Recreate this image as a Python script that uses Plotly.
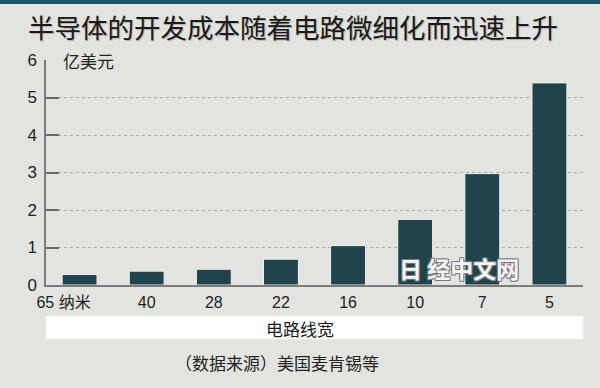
import plotly.graph_objects as go

# ---- data ----
categories = ["65", "40", "28", "22", "16", "10", "7", "5"]
tick_labels = ["65 纳米\u3000\u3000", "40", "28", "22", "16", "10", "7", "5"]
cost_values = [0.28, 0.37, 0.42, 0.69, 1.05, 1.75, 2.97, 5.39]
y_ticks = [0, 1, 2, 3, 4, 5, 6]

title_text = "半导体的开发成本随着电路微细化而迅速上升"
unit_text = "亿美元"
xtitle_text = "电路线宽"
source_text = "（数据来源）美国麦肯锡等"
watermark_text = "日 经中文网"

# ---- layout constants ----
W, H = 600, 388
ML, MR, MT, MB = 46, 17, 60, 103
PW, PH = W - ML - MR, H - MT - MB
BG = "#e3e4df"
BAR = "#21434c"
FONT = "Liberation Sans, Noto Sans CJK SC, sans-serif"
CJK = "Noto Sans CJK SC, sans-serif"


def py(px):  # pixel y (from top) -> paper y
    return (H - MB - px) / PH


def pxx(px):  # pixel x -> paper x
    return (px - ML) / PW


fig = go.Figure(
    go.Bar(
        x=categories,
        y=cost_values,
        marker=dict(color=BAR, line=dict(color="#f2f2ee", width=1)),
        hoverinfo="skip",
    )
)

fig.update_layout(
    width=W,
    height=H,
    margin=dict(l=ML, r=MR, t=MT, b=MB, pad=0),
    paper_bgcolor=BG,
    plot_bgcolor=BG,
    bargap=0.48,
    showlegend=False,
    font=dict(family=FONT, color="#222222"),
)

fig.update_xaxes(
    type="category",
    tickvals=categories,
    ticktext=tick_labels,
    showline=True,
    linecolor="#7c7c7c",
    linewidth=1.5,
    ticks="",
    showgrid=False,
    tickfont=dict(size=16, family=FONT, color="#222222"),
    ticklabelstandoff=2,
    automargin=False,
)

fig.update_yaxes(
    range=[0, 6],
    tickvals=y_ticks,
    showline=True,
    linecolor="#7c7c7c",
    linewidth=1.5,
    ticks="inside",
    ticklen=13,
    tickcolor="#6a6a6a",
    tickwidth=1.5,
    showgrid=True,
    gridcolor="#a8a8a8",
    gridwidth=1,
    griddash="dot",
    zeroline=False,
    tickfont=dict(size=17, family=FONT, color="#222222"),
    ticklabelstandoff=4,
    automargin=False,
)

# top dark band
fig.add_shape(type="rect", xref="paper", yref="paper",
              x0=pxx(-2), x1=pxx(W + 2), y0=py(4), y1=py(-2),
              fillcolor="#1d5468", line=dict(width=0), layer="above")

# white x-title box
fig.add_shape(type="rect", xref="paper", yref="paper",
              x0=0, x1=1, y0=py(339), y1=py(316),
              fillcolor="#ffffff", line=dict(color="#f0f0ee", width=1), layer="above")

# title
fig.add_annotation(text=title_text, xref="paper", yref="paper",
                   x=pxx(26), y=py(27), xanchor="left", yanchor="middle",
                   showarrow=False,
                   font=dict(size=26.5, family=CJK, color="#1a1a1a", shadow="1px 1px 1px #b0b0b0"))

# unit label
fig.add_annotation(text=unit_text, xref="paper", yref="paper",
                   x=pxx(61), y=py(60), xanchor="left", yanchor="middle",
                   showarrow=False, bgcolor=BG, borderpad=1,
                   font=dict(size=17, family=CJK, color="#222222"))

# x-axis title
fig.add_annotation(text=xtitle_text, xref="paper", yref="paper",
                   x=pxx(300), y=py(328), xanchor="center", yanchor="middle",
                   showarrow=False,
                   font=dict(size=17, family=CJK, color="#1a1a1a"))

# source
fig.add_annotation(text=source_text, xref="paper", yref="paper",
                   x=pxx(277), y=py(362), xanchor="center", yanchor="middle",
                   showarrow=False,
                   font=dict(size=17, family=CJK, color="#222222"))

# watermark
fig.add_annotation(text="<b>" + watermark_text + "</b>", xref="paper", yref="paper",
                   x=pxx(459), y=py(268), xanchor="center", yanchor="middle",
                   showarrow=False,
                   font=dict(size=23, family=CJK, color="#f4f4f4",
                             shadow="-1px -1px 0 #7a7a7a, 1px -1px 0 #7a7a7a, -1px 1px 0 #7a7a7a, 1px 1px 0 #7a7a7a"))

fig.write_html("out.html",
               config={"displayModeBar": False},
               post_script="document.body.style.margin='0';document.body.style.overflow='hidden';")
